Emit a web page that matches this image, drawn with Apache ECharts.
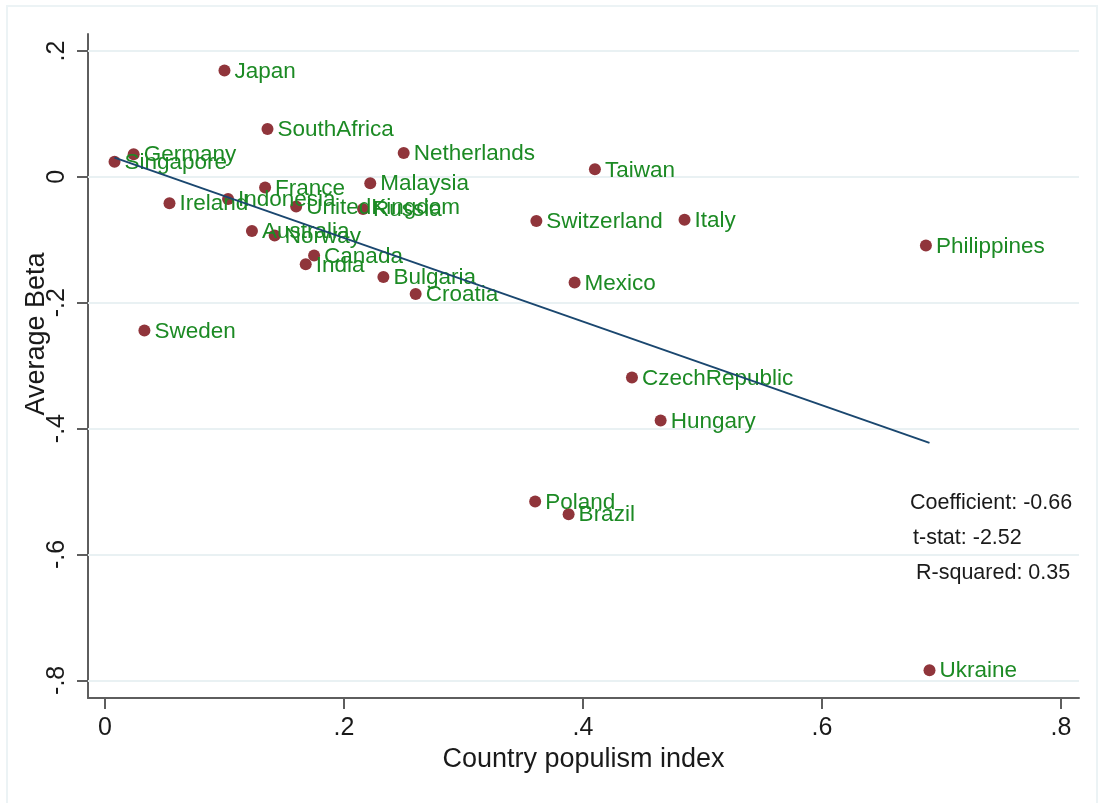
<!DOCTYPE html>
<html>
<head>
<meta charset="utf-8">
<title>Average Beta vs Country populism index</title>
<script src="https://cdn.jsdelivr.net/npm/echarts@6/dist/echarts.min.js"></script>
<style>
  html, body { margin: 0; padding: 0; background: #fff; }
  #chart { width: 1098px; height: 803px; }
</style>
</head>
<body>
<div id="chart"></div>
<script>
  // values
  var countries = ['Japan', 'SouthAfrica', 'Germany', 'Singapore', 'Netherlands', 'Taiwan',
    'France', 'Malaysia', 'Ireland', 'Indonesia', 'UnitedKingdom', 'Russia', 'Australia',
    'Norway', 'Canada', 'India', 'Bulgaria', 'Croatia', 'Sweden', 'Switzerland', 'Italy',
    'Mexico', 'Philippines', 'CzechRepublic', 'Hungary', 'Poland', 'Brazil', 'Ukraine'];
  var populism = [0.100, 0.136, 0.024, 0.008, 0.250, 0.410,
    0.134, 0.222, 0.054, 0.103, 0.160, 0.216, 0.123,
    0.142, 0.175, 0.168, 0.233, 0.260, 0.033, 0.361, 0.485,
    0.393, 0.687, 0.441, 0.465, 0.360, 0.388, 0.690];
  var beta = [0.169, 0.076, 0.036, 0.024, 0.038, 0.012,
    -0.017, -0.010, -0.042, -0.035, -0.047, -0.051, -0.086,
    -0.093, -0.125, -0.139, -0.159, -0.186, -0.244, -0.070, -0.068,
    -0.168, -0.109, -0.319, -0.387, -0.516, -0.536, -0.784];

  // fitted line end points
  var fitX = [0.008, 0.690];
  var fitY = [0.0305, -0.4227];

  var xTicks = [0, 0.2, 0.4, 0.6, 0.8];
  var xTickLabels = ['0', '.2', '.4', '.6', '.8'];
  var yTicks = [0.2, 0, -0.2, -0.4, -0.6, -0.8];
  var yTickLabels = ['.2', '0', '-.2', '-.4', '-.6', '-.8'];

  var statLines = ['Coefficient: -0.66', 't-stat: -2.52', 'R-squared: 0.35'];

  var font = "'Liberation Sans', Arial, sans-serif";

  function tickText(ticks, labels) {
    return function (v) {
      for (var i = 0; i < ticks.length; i++) {
        if (Math.abs(ticks[i] - v) < 1e-6) return labels[i];
      }
      return '';
    };
  }

  var points = populism.map(function (x, i) { return [x, beta[i]]; });
  var fitLine = fitX.map(function (x, i) { return [x, fitY[i]]; });

  var chart = echarts.init(document.getElementById('chart'));
  chart.setOption({
    backgroundColor: '#fff',
    animation: false,
    textStyle: { fontFamily: font },
    grid: { left: 88, top: 34, right: 19, bottom: 105 },
    xAxis: {
      type: 'value',
      min: -0.0142, max: 0.8151,
      name: 'Country populism index',
      nameLocation: 'middle',
      nameGap: 46,
      nameTextStyle: { fontSize: 27, color: '#1a1a1a', fontFamily: font },
      axisLine: { onZero: false, lineStyle: { color: '#5e5e5e', width: 2 } },
      axisTick: { show: true, length: 11, customValues: xTicks, lineStyle: { color: '#5e5e5e', width: 2 } },
      axisLabel: { customValues: xTicks, formatter: tickText(xTicks, xTickLabels), fontSize: 25, color: '#1a1a1a', margin: 18, fontFamily: font },
      splitLine: { show: false }
    },
    yAxis: {
      type: 'value',
      min: -0.8281, max: 0.227,
      axisLine: { show: true, onZero: false, lineStyle: { color: '#5e5e5e', width: 2 } },
      axisTick: { show: true, length: 11, customValues: yTicks, lineStyle: { color: '#5e5e5e', width: 2 } },
      axisLabel: { customValues: yTicks, formatter: tickText(yTicks, yTickLabels), rotate: 90, fontSize: 25, color: '#1a1a1a', margin: 18, fontFamily: font },
      splitLine: { show: false }
    },
    series: [
      {
        // horizontal grid lines
        type: 'line',
        data: [],
        z: 1,
        silent: true,
        markLine: {
          silent: true,
          z: 1,
          symbol: 'none',
          label: { show: false },
          lineStyle: { color: '#e9f1f3', width: 2, type: 'solid' },
          data: yTicks.map(function (v) { return { yAxis: v }; })
        }
      },
      {
        type: 'scatter',
        data: points,
        z: 3,
        symbol: 'circle',
        symbolSize: 12,
        itemStyle: { color: '#90353b', opacity: 1 },
        label: {
          show: true,
          position: 'right',
          distance: 4,
          offset: [0, 1],
          formatter: function (p) { return countries[p.dataIndex]; },
          fontSize: 22.5,
          color: '#1c8a24',
          fontFamily: font
        }
      },
      {
        type: 'line',
        data: fitLine,
        z: 4,
        showSymbol: false,
        symbol: 'none',
        lineStyle: { color: '#1a476f', width: 2 }
      }
    ],
    graphic: [
      {
        type: 'rect',
        shape: { x: 7, y: 6, width: 1090, height: 805 },
        style: { fill: null, stroke: '#ecf3f5', lineWidth: 2 },
        z: -1
      },
      // y axis title, drawn by hand so it can sit where Stata put it
      {
        type: 'text', x: 37, y: 334, rotation: Math.PI / 2,
        style: { text: 'Average Beta', font: '27px ' + font, fill: '#1a1a1a', align: 'center', verticalAlign: 'middle' }
      },
      { type: 'text', left: 910, top: 492, style: { text: statLines[0], font: '21.5px ' + font, fill: '#1a1a1a' } },
      { type: 'text', left: 913, top: 527, style: { text: statLines[1], font: '21.5px ' + font, fill: '#1a1a1a' } },
      { type: 'text', left: 916, top: 562, style: { text: statLines[2], font: '21.5px ' + font, fill: '#1a1a1a' } }
    ]
  });
</script>
</body>
</html>
